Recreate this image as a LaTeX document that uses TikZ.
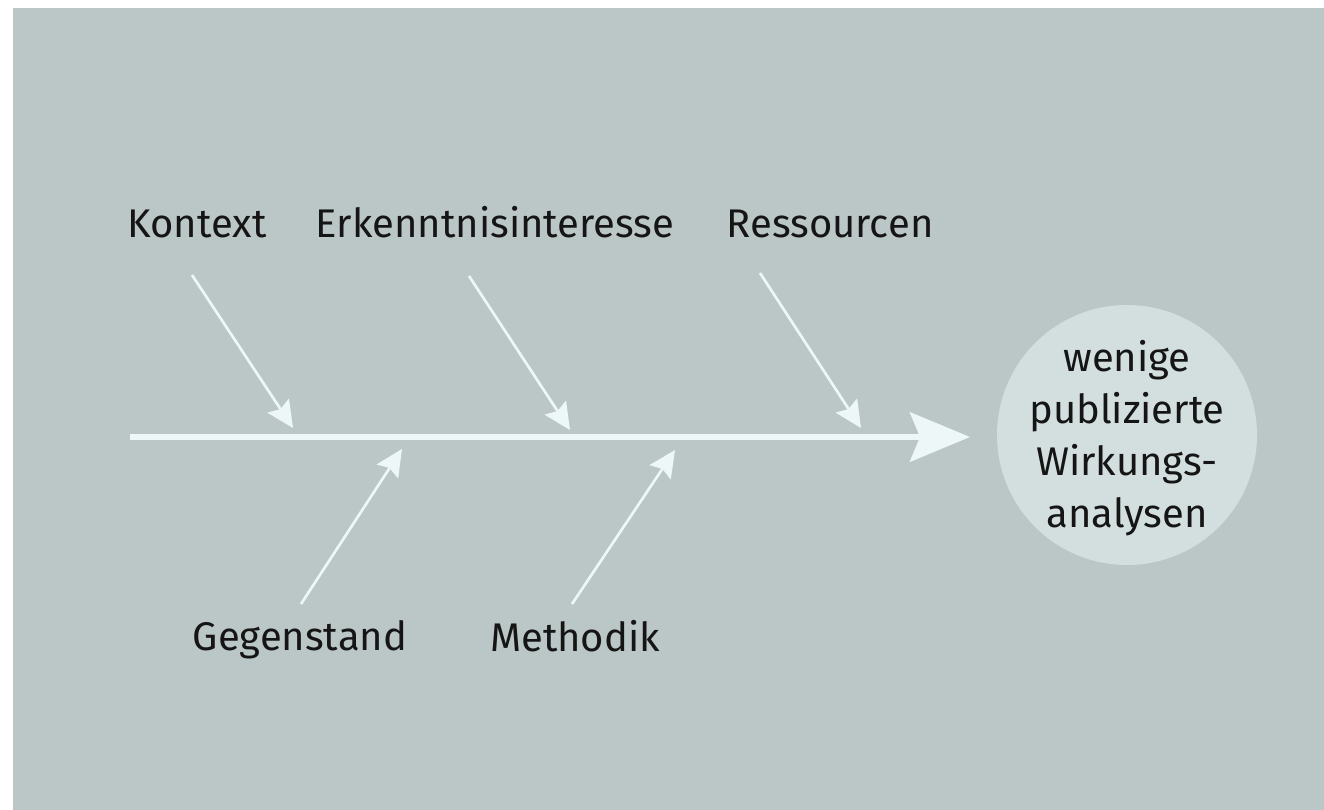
\documentclass[tikz,border=0pt]{standalone}
\usepackage{fontspec}
\setmainfont{Fira Sans}
\usetikzlibrary{arrows.meta}
\definecolor{bgc}{HTML}{BBC7C6}
\definecolor{circc}{HTML}{D3DFDF}
\definecolor{arrc}{HTML}{EEF7F7}
\definecolor{txtc}{HTML}{151515}
\tikzset{
  lbl/.style={font=\fontsize{30pt}{39pt}\selectfont, text=txtc, anchor=base, inner sep=0pt},
  cause/.style={draw=arrc, line width=2pt, -{Stealth[length=20pt, width=19pt, inset=3pt]}},
  spine/.style={draw=arrc, line width=4.5pt, -{Stealth[length=45pt, width=37pt, inset=7.5pt]}}
}
\begin{document}
\begin{tikzpicture}[x=0.75pt,y=-0.75pt]
\useasboundingbox (0,0) rectangle (1324,810);
\fill[white] (0,0) rectangle (1324,810);
\fill[bgc] (13,8) rectangle (1324,810);
% labels
\node[lbl] (kontext) at (197,237) {Kontext};
\node[lbl] (erk) at (495,237) {Erkenntnisinteresse};
\node[lbl] (res) at (830,237) {Ressourcen};
\node[lbl] (geg) at (300,650) {Gegenstand};
\node[lbl] (meth) at (575,651) {Methodik};
% effect
\node[circle, fill=circc, minimum size=195pt, inner sep=0pt] (goal) at (1127,435) {};
\node[align=center, inner sep=0pt, font=\fontsize{30pt}{39pt}\selectfont, text=txtc]
      (goaltext) at (1127,438) {wenige\\publizierte\\Wirkungs-\\analysen};
% spine
\coordinate (s0) at (130,437);
\coordinate (s1) at (970,437);
\draw[spine] (s0) -- (s1);
% causes
\coordinate (k0) at (192,275); \coordinate (k1) at (293,428);
\coordinate (e0) at (469,276); \coordinate (e1) at (570,430);
\coordinate (r0) at (760,273); \coordinate (r1) at (861,428);
\coordinate (g0) at (301,604); \coordinate (g1) at (402,449);
\coordinate (m0) at (572,604); \coordinate (m1) at (675,450);
\draw[cause] (k0) -- (k1);
\draw[cause] (e0) -- (e1);
\draw[cause] (r0) -- (r1);
\draw[cause] (g0) -- (g1);
\draw[cause] (m0) -- (m1);
\end{tikzpicture}
\end{document}
